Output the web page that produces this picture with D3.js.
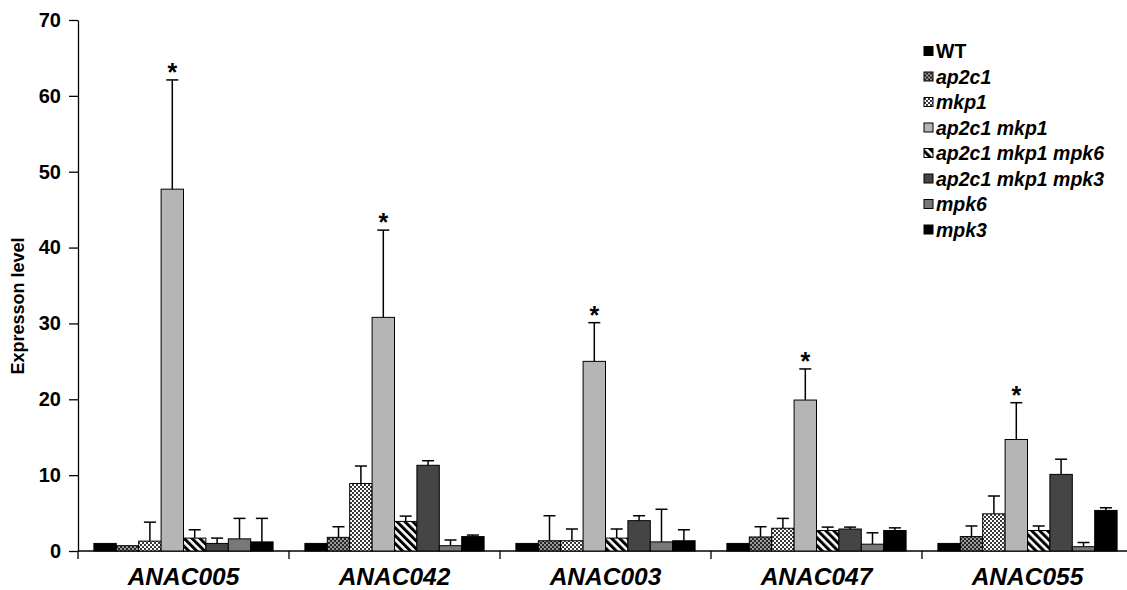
<!DOCTYPE html>
<html lang="en">
  <head>
    <meta charset="UTF-8" />
    <title>Expression level</title>
    <script src="https://cdn.jsdelivr.net/npm/d3@7"></script>
    <style>
      body {
        margin: 0;
        padding: 0;
        background: #fff;
        font-family: "Liberation Sans", Arial, sans-serif;
      }
      text {
        font-weight: bold;
      }
    </style>
  </head>
  <body>
    <svg id="chart"></svg>

    <script>
      // genes on the x axis
      const genes = ["ANAC005", "ANAC042", "ANAC003", "ANAC047", "ANAC055"];

      // genotypes (legend order)
      const lines = [
        "WT",
        "ap2c1",
        "mkp1",
        "ap2c1 mkp1",
        "ap2c1 mkp1 mpk6",
        "ap2c1 mkp1 mpk3",
        "mpk6",
        "mpk3",
      ];

      // mean expression, one array per genotype (ANAC005 .. ANAC055)
      const wtVals = [1.0, 1.0, 1.0, 1.0, 1.0];
      const ap2c1Vals = [0.7, 1.8, 1.35, 1.85, 1.9];
      const mkp1Vals = [1.3, 8.9, 1.35, 3.0, 4.9];
      const doubleVals = [47.7, 30.8, 25.0, 19.9, 14.7];
      const tripleMpk6Vals = [1.7, 3.9, 1.7, 2.7, 2.7];
      const tripleMpk3Vals = [1.0, 11.3, 4.0, 2.9, 10.1];
      const mpk6Vals = [1.6, 0.7, 1.2, 0.9, 0.57];
      const mpk3Vals = [1.2, 1.9, 1.35, 2.7, 5.35];

      // upper error (sd)
      const wtErr = [0, 0, 0, 0, 0];
      const ap2c1Err = [0, 1.4, 3.3, 1.35, 1.4];
      const mkp1Err = [2.5, 2.3, 1.55, 1.3, 2.35];
      const doubleErr = [14.4, 11.5, 5.1, 4.1, 4.85];
      const tripleMpk6Err = [1.1, 0.7, 1.2, 0.45, 0.6];
      const tripleMpk3Err = [0.7, 0.6, 0.65, 0.25, 2.0];
      const mpk6Err = [2.7, 0.75, 4.3, 1.5, 0.55];
      const mpk3Err = [3.1, 0.2, 1.45, 0.35, 0.35];

      // significance marks
      const starred = ["ap2c1 mkp1"];

      const yTicks = [0, 10, 20, 30, 40, 50, 60, 70];

      const allVals = [
        wtVals,
        ap2c1Vals,
        mkp1Vals,
        doubleVals,
        tripleMpk6Vals,
        tripleMpk3Vals,
        mpk6Vals,
        mpk3Vals,
      ];
      const allErr = [
        wtErr,
        ap2c1Err,
        mkp1Err,
        doubleErr,
        tripleMpk6Err,
        tripleMpk3Err,
        mpk6Err,
        mpk3Err,
      ];

      const fills = [
        "#000",
        "url(#pAp2c1)",
        "url(#pMkp1)",
        "#b5b5b5",
        "url(#pHatch)",
        "#454545",
        "#787878",
        "#000",
      ];

      const width = 1127;
      const height = 590;
      const x0 = 78;
      const groupW = 211;

      const svg = d3
        .select("#chart")
        .attr("width", width)
        .attr("height", height);

      // patterns
      const defs = svg.append("defs");
      const p1 = defs
        .append("pattern")
        .attr("id", "pAp2c1")
        .attr("patternUnits", "userSpaceOnUse")
        .attr("width", 4)
        .attr("height", 4);
      p1.append("rect").attr("width", 4).attr("height", 4).attr("fill", "#262626");
      p1.append("rect").attr("x", 0).attr("y", 0).attr("width", 2).attr("height", 2).attr("fill", "#9a9a9a");
      p1.append("rect").attr("x", 2).attr("y", 2).attr("width", 2).attr("height", 2).attr("fill", "#9a9a9a");

      const p2 = defs
        .append("pattern")
        .attr("id", "pMkp1")
        .attr("patternUnits", "userSpaceOnUse")
        .attr("width", 4)
        .attr("height", 4);
      p2.append("rect").attr("width", 4).attr("height", 4).attr("fill", "#fff");
      p2.append("rect").attr("x", 0).attr("y", 0).attr("width", 2).attr("height", 2).attr("fill", "#3a3a3a");
      p2.append("rect").attr("x", 2).attr("y", 2).attr("width", 2).attr("height", 2).attr("fill", "#3a3a3a");

      const p3 = defs
        .append("pattern")
        .attr("id", "pHatch")
        .attr("patternUnits", "userSpaceOnUse")
        .attr("width", 5.6)
        .attr("height", 5.6)
        .attr("patternTransform", "rotate(-45)");
      p3.append("rect").attr("width", 5.6).attr("height", 5.6).attr("fill", "#fff");
      p3.append("rect").attr("width", 3).attr("height", 5.6).attr("fill", "#000");

      // scales
      const x = d3
        .scaleBand()
        .domain(genes)
        .range([x0, x0 + groupW * genes.length])
        .padding(0);
      const xi = d3
        .scaleBand()
        .domain(lines)
        .range([0, groupW])
        .paddingInner(0)
        .paddingOuter(0.71);
      const y = d3.scaleLinear().domain([0, 70]).range([551, 20]);

      // y axis
      const yAxis = svg
        .append("g")
        .attr("transform", `translate(${x0},0)`)
        .call(d3.axisLeft(y).tickValues(yTicks).tickSize(9).tickSizeOuter(0).tickPadding(8));
      yAxis.select(".domain").attr("stroke", "#000").attr("stroke-width", 1.3);
      yAxis.selectAll(".tick line").attr("stroke-width", 1.3);
      yAxis
        .selectAll(".tick text")
        .attr("font-size", 20)
        .attr("font-family", "Liberation Sans, Arial, sans-serif")
        .attr("font-weight", "bold")
        .attr("fill", "#000");

      // x axis line and group separators
      svg
        .append("line")
        .attr("x1", x0)
        .attr("x2", width)
        .attr("y1", y(0))
        .attr("y2", y(0))
        .attr("stroke", "#000")
        .attr("stroke-width", 1.3);
      svg
        .selectAll(".sep")
        .data(genes)
        .enter()
        .append("line")
        .attr("class", "sep")
        .attr("x1", (d) => x(d))
        .attr("x2", (d) => x(d))
        .attr("y1", y(0))
        .attr("y2", y(0) + 8)
        .attr("stroke", "#000")
        .attr("stroke-width", 1.3);

      svg
        .selectAll(".glabel")
        .data(genes)
        .enter()
        .append("text")
        .attr("class", "glabel")
        .attr("x", (d) => x(d) + groupW / 2)
        .attr("y", 585)
        .attr("text-anchor", "middle")
        .attr("font-size", 24.5)
        .attr("font-style", "italic")
        .text((d) => d);

      // y title
      svg
        .append("text")
        .attr("transform", "translate(24,306) rotate(-90)")
        .attr("text-anchor", "middle")
        .attr("font-size", 18)
        .text("Expresson level");

      // bars
      const bars = [];
      lines.forEach((ln, s) => {
        genes.forEach((g, gi) => {
          bars.push({
            gene: g,
            line: ln,
            s: s,
            v: allVals[s][gi],
            e: allErr[s][gi],
          });
        });
      });

      const bx = (d) => x(d.gene) + xi(d.line);
      const bw = xi.bandwidth();

      // error bars (drawn first so the bar covers the stem base)
      const eb = svg
        .selectAll(".err")
        .data(bars.filter((d) => d.e > 0))
        .enter()
        .append("g")
        .attr("class", "err");
      eb.append("line")
        .attr("x1", (d) => bx(d) + bw / 2)
        .attr("x2", (d) => bx(d) + bw / 2)
        .attr("y1", (d) => y(d.v))
        .attr("y2", (d) => y(d.v + d.e))
        .attr("stroke", "#000")
        .attr("stroke-width", 1.5);
      eb.append("line")
        .attr("x1", (d) => bx(d) + bw / 2 - 6)
        .attr("x2", (d) => bx(d) + bw / 2 + 6)
        .attr("y1", (d) => y(d.v + d.e))
        .attr("y2", (d) => y(d.v + d.e))
        .attr("stroke", "#000")
        .attr("stroke-width", 1.5);

      svg
        .selectAll(".bar")
        .data(bars)
        .enter()
        .append("rect")
        .attr("class", "bar")
        .attr("x", (d) => bx(d))
        .attr("y", (d) => y(d.v))
        .attr("width", bw)
        .attr("height", (d) => y(0) - y(d.v))
        .attr("fill", (d) => fills[d.s])
        .attr("stroke", "#000")
        .attr("stroke-width", 1);

      // asterisks
      svg
        .selectAll(".star")
        .data(bars.filter((d) => starred.includes(d.line)))
        .enter()
        .append("text")
        .attr("class", "star")
        .attr("x", (d) => bx(d) + bw / 2)
        .attr("y", (d) => y(d.v + d.e) + 1)
        .attr("text-anchor", "middle")
        .attr("font-size", 25)
        .text("*");

      // legend
      const leg = svg
        .selectAll(".leg")
        .data(lines)
        .enter()
        .append("g")
        .attr("class", "leg")
        .attr("transform", (d, i) => `translate(924,${51 + i * 25.5})`);
      leg
        .append("rect")
        .attr("x", 0)
        .attr("y", -4.5)
        .attr("width", 9)
        .attr("height", 9)
        .attr("fill", (d, i) => fills[i])
        .attr("stroke", "#000")
        .attr("stroke-width", 1);
      leg
        .append("text")
        .attr("x", 12)
        .attr("y", 7)
        .attr("font-size", 19.5)
        .attr("font-style", (d) => (d == "WT" ? "normal" : "italic"))
        .text((d) => d);
    </script>
  </body>
</html>
